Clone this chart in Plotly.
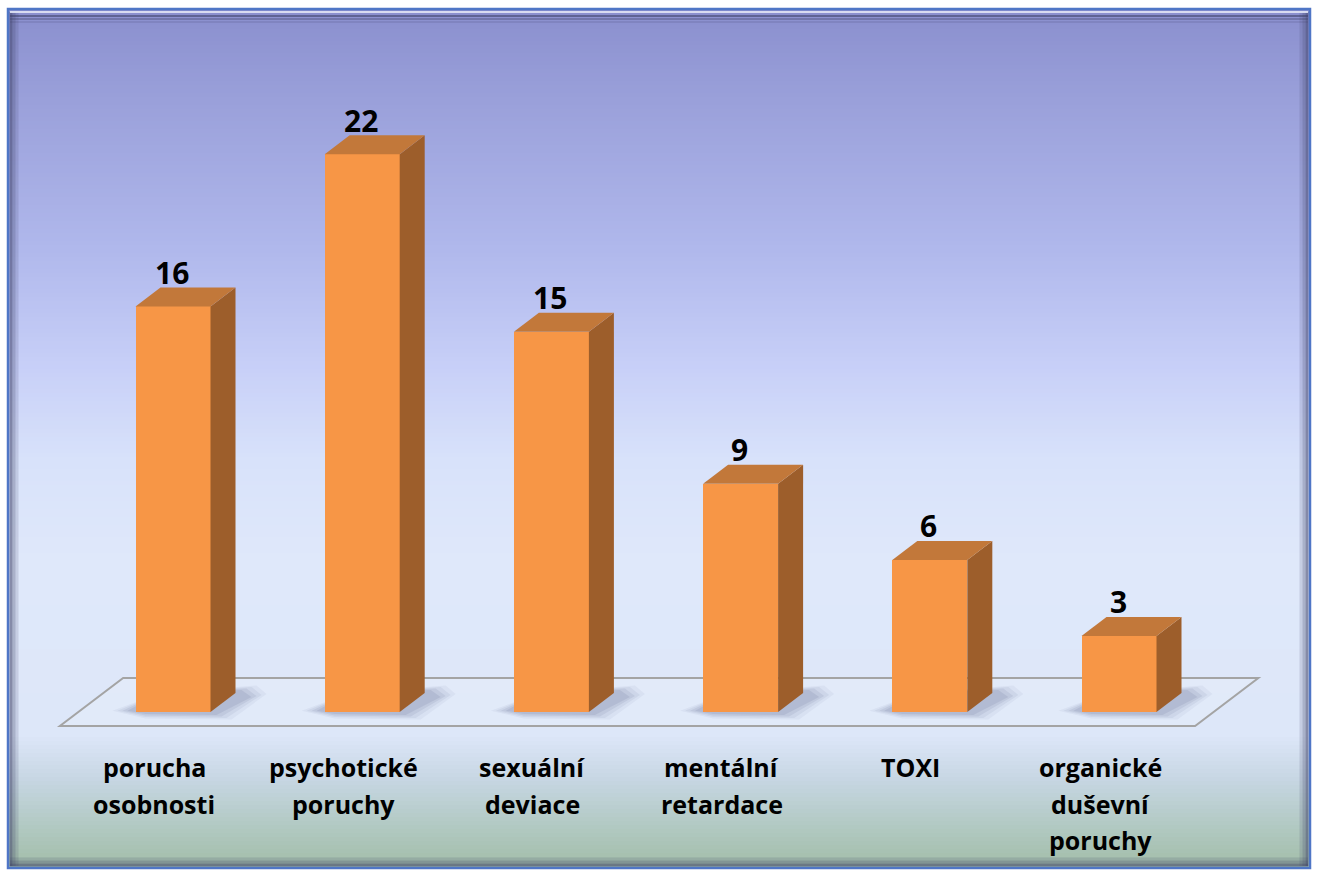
import plotly.graph_objects as go

# ---------------- data ----------------
categories = ["porucha\nosobnosti", "psychotické\nporuchy", "sexuální\ndeviace",
              "mentální\nretardace", "TOXI", "organické\nduševní\nporuchy"]
values = [16, 22, 15, 9, 6, 3]

# ---------------- geometry / style ----------------
W, H = 1318, 873
SX = 189.2          # px per category step
SY = 25.35          # px per value unit
X0_PX = 173         # px of first category centre
Y0_PX = 712         # px of value 0 (bar front base)
BAR_W = 75 / SX
DX = 25 / SX        # depth offset (x, in category units)
DY = 19 / SY        # depth offset (y, in value units)

FRONT = "#f79646"
TOP = "#c2783a"
SIDE = "#9d5e2b"

def fx(px):
    return px / W

def fy(py):
    return 1 - py / H

fig = go.Figure()
shapes = []

# background gradient (paper coords)
stops = [(10, (0x8a, 0x8f, 0xce)), (100, (0x9a, 0xa0, 0xda)), (250, (0xb0, 0xb8, 0xec)),
         (370, (0xc8, 0xd0, 0xf8)), (460, (0xd8, 0xe2, 0xfa)), (560, (0xdf, 0xe8, 0xfa)),
         (735, (0xdd, 0xe7, 0xf9)), (780, (0xc6, 0xd6, 0xe2)), (830, (0xb0, 0xc8, 0xc0)),
         (868, (0xa2, 0xbd, 0xa8))]

def color_at(py):
    for (p0, c0), (p1, c1) in zip(stops[:-1], stops[1:]):
        if p0 <= py <= p1:
            t = (py - p0) / (p1 - p0)
            return "rgb(%d,%d,%d)" % tuple(round(a + (b - a) * t) for a, b in zip(c0, c1))
    return "rgb(%d,%d,%d)" % stops[-1][1]

step = 4
py = 9
while py < 868:
    shapes.append(dict(type="rect", xref="paper", yref="paper", layer="below",
                       x0=fx(8), x1=fx(1310), y0=fy(min(py + step + 1, 868)), y1=fy(py),
                       line=dict(width=0), fillcolor=color_at(py + step / 2)))
    py += step

# floor parallelogram (data coords)
n = len(values)
f_front, f_back = -0.74, 1.79
xl, xr = -0.5, n - 0.5
floor_pts = [(xl + f_front * DX, f_front * DY), (xr + f_front * DX, f_front * DY),
             (xr + f_back * DX, f_back * DY), (xl + f_back * DX, f_back * DY)]
path = "M " + " L ".join(f"{x},{y}" for x, y in floor_pts) + " Z"
shapes.append(dict(type="path", xref="x", yref="y", layer="below", path=path,
                   line=dict(color="#a4a4a4", width=2), fillcolor="rgba(255,255,255,0.12)"))

# soft shadows on floor (several faint layers to mimic blur)
for i, v in enumerate(values):
    L = i - BAR_W / 2
    R = i + BAR_W / 2
    for k, a in enumerate([0.06, 0.08, 0.10, 0.12]):
        g = (3 - k) * 5
        pts = [(L - (8 + g) / SX, 0.05), (L + 10 / SX, -(2 + g * 0.3) / SY),
               (R + (6 + g) / SX, -(3 + g * 0.3) / SY),
               (R + DX + (16 + g) / SX, DY - (4 - g * 0.2) / SY), (R + DX + (6 + g) / SX, DY + (3 + g * 0.3) / SY),
               (L + DX, DY)]
        p = "M " + " L ".join(f"{x},{y}" for x, y in pts) + " Z"
        shapes.append(dict(type="path", xref="x", yref="y", layer="below", path=p,
                           line=dict(width=0), fillcolor=f"rgba(80,90,130,{a})"))

# frame border / bevel (paper coords)
def line(x0, y0, x1, y1, color, width):
    shapes.append(dict(type="line", xref="paper", yref="paper", x0=fx(x0), y0=fy(y0),
                       x1=fx(x1), y1=fy(y1), line=dict(color=color, width=width)))

for off, a in [(3, 0.55), (6, 0.32), (9, 0.15)]:
    c = f"rgba(60,62,100,{a})"
    line(8 + off, 12, 8 + off, 866, c, 3)          # left
    line(1310 - off, 12, 1310 - off, 866, c, 3)    # right
    line(10, 868 - off, 1308, 868 - off, c, 3)     # bottom
    line(10, 11 + off + 2, 1308, 11 + off + 2, c, 2)  # top shadow
line(10, 12, 1308, 12, "rgba(225,228,245,0.9)", 2)   # top highlight
shapes.append(dict(type="rect", xref="paper", yref="paper", x0=fx(8), x1=fx(1310),
                   y0=fy(868), y1=fy(9), line=dict(color="#4f76c6", width=2.5)))

# ---------------- 3D bars ----------------
for i, v in enumerate(values):
    R = i + BAR_W / 2
    L = i - BAR_W / 2
    # side face
    fig.add_trace(go.Scatter(x=[R, R + DX, R + DX, R, R], y=[0, DY, v + DY, v, 0],
                             fill="toself", fillcolor=SIDE, mode="lines",
                             line=dict(width=0, color=SIDE), hoverinfo="skip", showlegend=False))
    # top face
    fig.add_trace(go.Scatter(x=[L, R, R + DX, L + DX, L], y=[v, v, v + DY, v + DY, v],
                             fill="toself", fillcolor=TOP, mode="lines",
                             line=dict(width=0, color=TOP), hoverinfo="skip", showlegend=False))

fig.add_trace(go.Bar(x=list(range(n)), y=values, width=BAR_W, marker=dict(color=FRONT, line=dict(width=0)),
                     showlegend=False, hoverinfo="skip"))

annotations = []
for i, v in enumerate(values):
    annotations.append(dict(x=i, y=v, xref="x", yref="y", text=f"<b>{v}</b>", showarrow=False,
                            yanchor="middle", xanchor="center", yshift=34, xshift=-1,
                            font=dict(family="Open Sans", size=30, color="black")))

for i, cat in enumerate(categories):
    for j, ln in enumerate(cat.split("\n")):
        annotations.append(dict(x=i, xref="x", yref="paper", y=fy(767 + 36.5 * j), text=f"<b>{ln}</b>",
                                showarrow=False, yanchor="middle", xanchor="center", xshift=-19,
                                font=dict(family="Open Sans", size=25, color="black")))

fig.update_layout(
    width=W, height=H,
    margin=dict(l=0, r=0, t=0, b=0),
    paper_bgcolor="white",
    plot_bgcolor="rgba(0,0,0,0)",
    shapes=shapes,
    annotations=annotations,
    xaxis=dict(range=[-X0_PX / SX, (W - X0_PX) / SX], visible=False, fixedrange=True),
    yaxis=dict(range=[-(H - Y0_PX) / SY, Y0_PX / SY], visible=False, fixedrange=True),
    bargap=0,
)

fig.write_html("out.html", config={"displayModeBar": False})
